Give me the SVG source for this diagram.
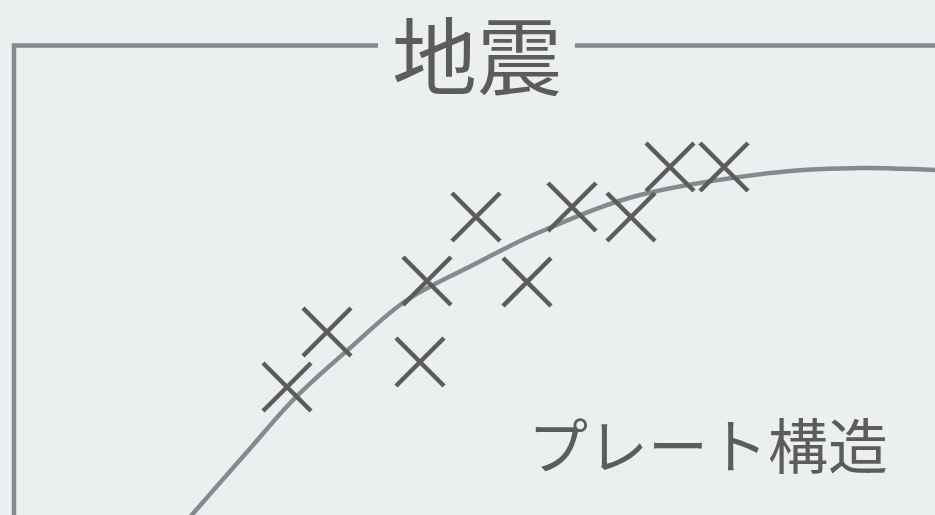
<svg xmlns="http://www.w3.org/2000/svg" width="935" height="515" viewBox="0 0 935 515">
<style>
.frame{fill:none;stroke:#868a8e;stroke-width:4.5}
.curve{fill:none;stroke:#868a8e;stroke-width:4.5}
.x{stroke:#5c5c5c;stroke-width:4.5;fill:none}
.t{fill:#5c5c5c;font-family:"Noto Sans CJK JP","Noto Sans",sans-serif}
</style>
<defs>
<path id="xm" class="x" d="M-24,-24L24,24M24,-24L-24,24"/>
</defs>
<rect width="935" height="515" fill="#ebeff0"/>
<g id="frame">
<path class="frame" d="M14,515V45.5H378"/>
<path class="frame" d="M575,45.5H935"/>
</g>
<g id="title"><text class="t" x="477" y="89" font-size="85" text-anchor="middle">地震</text></g>
<g id="connectors">
<path class="curve" d="M190,517C209,495.3 229.5,471.8 247,452C264.5,432.2 277.8,415.3 295,398C312.2,380.7 331.3,364.3 350,348C368.7,331.7 386.5,313.8 407,300C427.5,286.2 450.8,276.3 473,265C495.2,253.7 512.2,243.7 540,232C567.8,220.3 601.7,204.8 640,195C678.3,185.2 733.3,177.5 770,173C806.7,168.5 832.5,168.5 860,168C887.5,167.5 910,169.3 935,170"/>
</g>
<g id="quakes">
<use href="#xm" x="287" y="387"/>
<use href="#xm" x="327" y="332"/>
<use href="#xm" x="420" y="362"/>
<use href="#xm" x="427" y="281"/>
<use href="#xm" x="476" y="217"/>
<use href="#xm" x="527" y="282"/>
<use href="#xm" x="572" y="207"/>
<use href="#xm" x="631" y="217"/>
<use href="#xm" x="670" y="167"/>
<use href="#xm" x="724" y="167"/>
</g>
<g id="label"><text class="t" x="528" y="469" font-size="60">プレート構造</text></g>
</svg>
